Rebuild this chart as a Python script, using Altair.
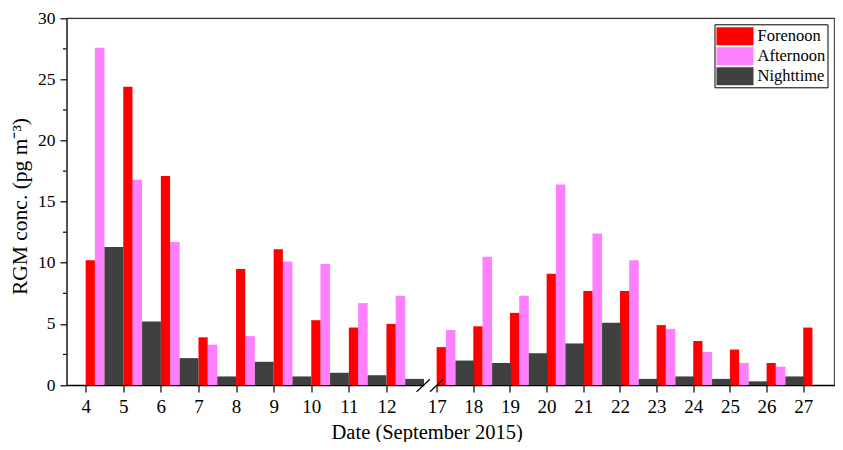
import altair as alt
import pandas as pd

# ---- data ----
dates = [4, 5, 6, 7, 8, 9, 10, 11, 12, 17, 18, 19, 20, 21, 22, 23, 24, 25, 26, 27]
forenoon = [10.2, 24.4, 17.1, 3.9, 9.5, 11.1, 5.3, 4.7, 5.0, 3.1, 4.8, 5.9, 9.1, 7.7, 7.7, 4.9, 3.6, 2.9, 1.8, 4.7]
afternoon = [27.6, 16.8, 11.7, 3.3, 4.0, 10.1, 9.9, 6.7, 7.3, 4.5, 10.5, 7.3, 16.4, 12.4, 10.2, 4.6, 2.7, 1.8, 1.5, None]
nighttime = [11.3, 5.2, 2.2, 0.7, 1.9, 0.7, 1.0, 0.8, 0.5, 2.0, 1.8, 2.6, 3.4, 5.1, 0.5, 0.7, 0.5, 0.3, 0.7, None]
periods = ["Forenoon", "Afternoon", "Nighttime"]
colors = ["#FF0000", "#FF80FF", "#404040"]
y_ticks = [0, 5, 10, 15, 20, 25, 30]
y_minor = [2.5, 7.5, 12.5, 17.5, 22.5, 27.5]

# ---- broken-axis mapping (date -> axis position) ----
BREAK_START = 9.335
RIGHT_STEP = 0.975


def pos(d):
    return d - 4 if d <= 12 else BREAK_START + (d - 17) * RIGHT_STEP


offsets = {"Forenoon": (0.0, 0.245), "Afternoon": (0.245, 0.5), "Nighttime": (0.5, 1.0)}
rows = []
for series, name in zip([forenoon, afternoon, nighttime], periods):
    for d, v in zip(dates, series):
        if v is None:
            continue
        a, b = offsets[name]
        rows.append({"date": d, "period": name, "value": v,
                     "x0": pos(d) + a, "x1": pos(d) + b})
df = pd.DataFrame(rows)

tick_pos = [pos(d) for d in dates]
W, H = 768.5, 366.7
FONT = "Liberation Serif"
xdom = [-0.51, 19.93]

xscale = alt.Scale(domain=xdom, nice=False, zero=False)
yscale = alt.Scale(domain=[0, 30], nice=False)

label_expr = (f"datum.value < 9 ? format(round(datum.value) + 4, 'd') : "
              f"format(round((datum.value - {BREAK_START}) / {RIGHT_STEP}) + 17, 'd')")

x_axis = alt.Axis(values=tick_pos, labelExpr=label_expr, grid=False,
                  tickSize=7, tickColor="black", tickWidth=1.2,
                  domainColor="black", domainWidth=1.3,
                  labelFont=FONT, labelFontSize=19, labelColor="black",
                  labelPadding=5, labelFlush=False, labelOverlap=False,
                  title="Date (September 2015)", titleFont=FONT,
                  titleFontSize=20.5, titleFontWeight="normal", titleColor="black",
                  titleX=360.2, titleY=53.5, titleBaseline="alphabetic",
                  titleAlign="center")
y_axis = alt.Axis(values=y_ticks, grid=False, tickSize=6.5, tickColor="black",
                  tickWidth=1.2, domainColor="black", domainWidth=1.3,
                  labelFont=FONT, labelFontSize=17.5, labelColor="black",
                  labelPadding=5, labelFlush=False,
                  title="RGM conc. (pg m\u207b\u00b3)", titleFont=FONT,
                  titleFontSize=21.5, titleFontWeight="normal", titleColor="black",
                  titleX=-40.5, titleY=187.7, titleAngle=-90,
                  titleBaseline="alphabetic", titleAlign="center")

bars = alt.Chart(df).mark_rect().encode(
    x=alt.X("x0:Q", scale=xscale, axis=x_axis),
    x2="x1:Q",
    y=alt.Y("value:Q", scale=yscale, axis=y_axis),
    y2=alt.datum(0),
    color=alt.Color("period:N", scale=alt.Scale(domain=periods, range=colors),
                    legend=alt.Legend(title=None, orient="none", legendX=648, legendY=6,
                                      symbolType="M-1,-0.9H2.7V0.9H-1Z", symbolSize=400,
                                      symbolStrokeWidth=0, symbolOpacity=1,
                                      labelFont=FONT, labelFontSize=16.5, labelColor="black",
                                      labelOffset=21, padding=2, rowPadding=1,
                                      strokeColor="black", fillColor="white")),
    order=alt.Order("period:N"),
)

minor = alt.Chart(pd.DataFrame({"m": y_minor})).mark_rule(color="black", strokeWidth=1.2).encode(
    y=alt.Y("m:Q", scale=yscale, axis=y_axis),
    x=alt.value(-3.5),
    x2=alt.value(0),
)

frame_top = alt.Chart(pd.DataFrame({"a": [0]})).mark_rule(color="#333333", strokeWidth=1.2).encode(
    x=alt.value(0), x2=alt.value(W), y=alt.value(0))
frame_right = alt.Chart(pd.DataFrame({"a": [0]})).mark_rule(color="#555555", strokeWidth=1.2).encode(
    x=alt.value(W - 0.6), y=alt.value(0), y2=alt.value(H))

# axis break: white gap plus two slashes
gap = alt.Chart(pd.DataFrame({"g0": [9.0], "g1": [BREAK_START]})).mark_rect(color="white").encode(
    x=alt.X("g0:Q", scale=xscale, axis=x_axis), x2="g1:Q",
    y=alt.Y("ya:Q", scale=yscale, axis=y_axis), y2="yb:Q",
).transform_calculate(ya="-0.15", yb="0.15")

slashes = alt.Chart(pd.DataFrame({"s0": [8.80, 9.157], "s1": [9.157, 9.51]})).mark_rule(
    color="black", strokeWidth=1.2).encode(
    x=alt.X("s0:Q", scale=xscale, axis=x_axis), x2="s1:Q",
    y=alt.Y("ya:Q", scale=yscale, axis=y_axis), y2="yb:Q",
).transform_calculate(ya="-0.55", yb="0.47")

chart = alt.layer(bars, minor, gap, slashes, frame_top, frame_right).properties(
    width=W, height=H,
    autosize=alt.AutoSizeParams(type="none"),
    padding={"left": 58.5, "top": 10.3, "right": 0, "bottom": 57},
).configure_view(stroke=None).configure(background="white")

chart.save("out.html", embed_options={"renderer": "svg", "actions": False})
